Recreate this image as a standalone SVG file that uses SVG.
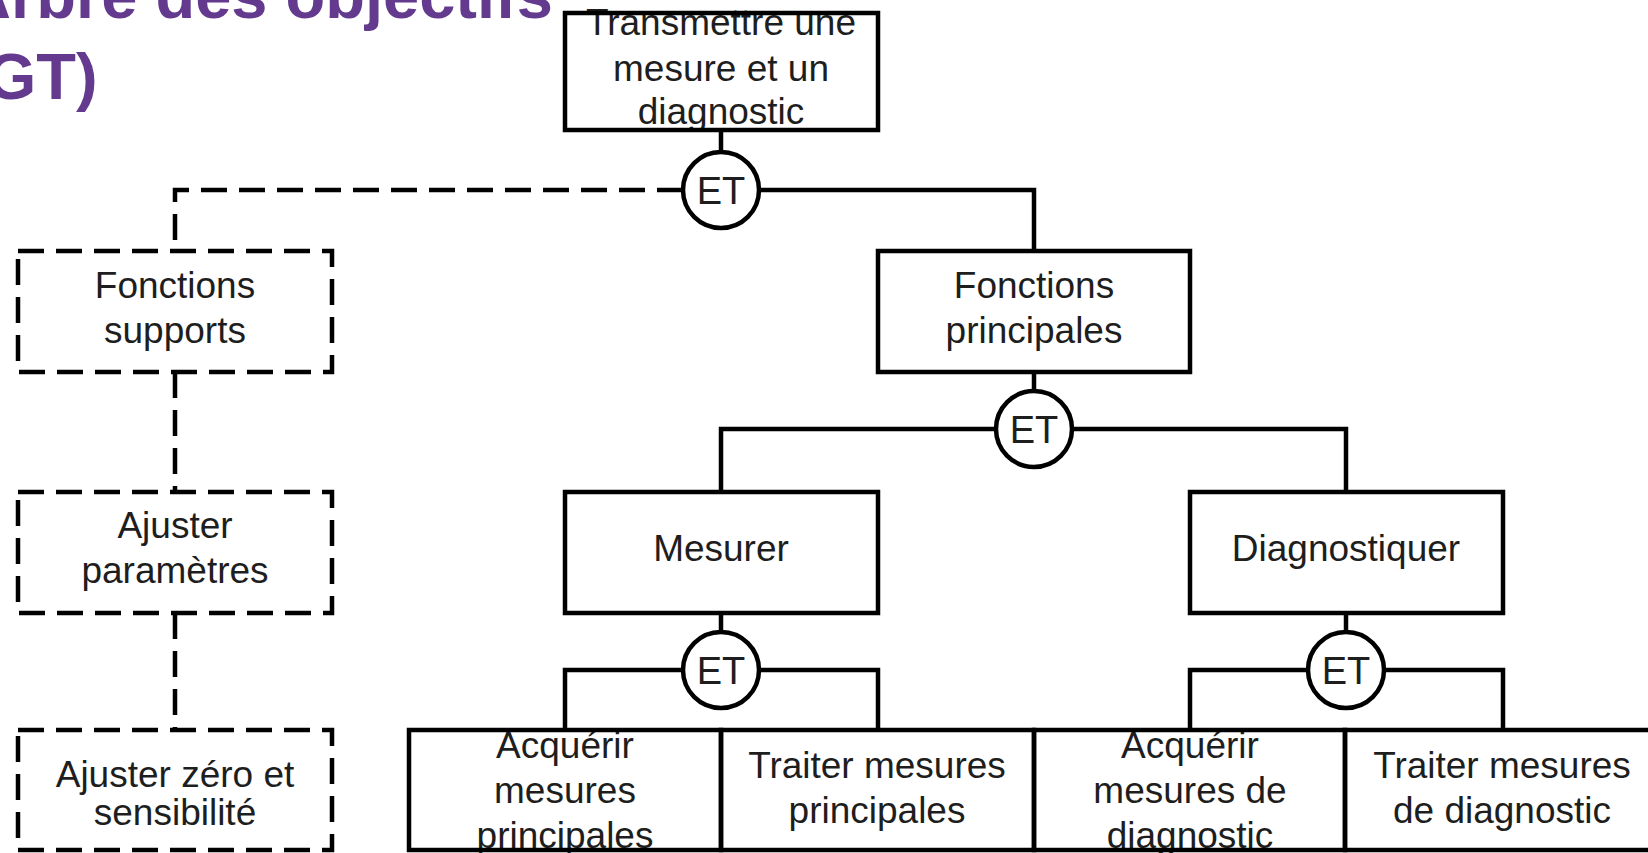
<svg xmlns="http://www.w3.org/2000/svg" width="1648" height="853" viewBox="0 0 1648 853">
<style>
.bx{fill:none;stroke:#000;stroke-width:4.5}
.dbx{fill:none;stroke:#000;stroke-width:4.5;stroke-dasharray:26 12}
.ln{fill:none;stroke:#000;stroke-width:4.5}
.dln{fill:none;stroke:#000;stroke-width:4.5;stroke-dasharray:26 12}
.et{fill:#fff;stroke:#000;stroke-width:4.5}
.t{font-family:"Liberation Sans",Arial,sans-serif;font-size:37px;fill:#1e1e1e;text-anchor:middle}
.ett{font-family:"Liberation Sans",Arial,sans-serif;font-size:38px;fill:#1e1e1e;text-anchor:middle}
.title{font-family:"Liberation Sans",Arial,sans-serif;font-size:65px;font-weight:bold;fill:#643a8f}
</style>
<rect width="1648" height="853" fill="#fff"/>
<g id="title">
<text class="title" x="-36" y="18">Arbre des objectifs</text>
<text class="title" x="-36" y="99">(GT)</text>
</g>
<g id="connectors">
<line class="ln" x1="721" y1="130" x2="721" y2="152"/>
<polyline class="dln" points="683,190 175,190 175,251"/>
<polyline class="ln" points="759,190 1034,190 1034,251"/>
<line class="dln" x1="175" y1="372" x2="175" y2="492"/>
<line class="dln" x1="175" y1="613" x2="175" y2="730"/>
<line class="ln" x1="1034" y1="372" x2="1034" y2="390"/>
<polyline class="ln" points="995,429 721,429 721,492"/>
<polyline class="ln" points="1073,429 1346,429 1346,492"/>
<line class="ln" x1="721" y1="613" x2="721" y2="632"/>
<polyline class="ln" points="683,670 565,670 565,730"/>
<polyline class="ln" points="759,670 878,670 878,730"/>
<line class="ln" x1="1346" y1="613" x2="1346" y2="632"/>
<polyline class="ln" points="1308,670 1190,670 1190,730"/>
<polyline class="ln" points="1384,670 1503,670 1503,730"/>
</g>
<g id="n-transmettre">
<text class="t" x="721" y="35">Transmettre une</text>
<text class="t" x="721" y="81">mesure et un</text>
<text class="t" x="721" y="124">diagnostic</text>
<rect class="bx" x="565" y="13" width="313" height="117"/>
</g>
<g id="et1"><circle class="et" cx="721" cy="190" r="38"/><text class="ett" x="721" y="204">ET</text></g>
<g id="n-fonctions-supports">
<text class="t" x="175" y="298">Fonctions</text>
<text class="t" x="175" y="343">supports</text>
<rect class="dbx" x="18" y="251" width="314" height="121"/>
</g>
<g id="n-fonctions-principales">
<text class="t" x="1034" y="298">Fonctions</text>
<text class="t" x="1034" y="343">principales</text>
<rect class="bx" x="878" y="251" width="312" height="121"/>
</g>
<g id="et2"><circle class="et" cx="1034" cy="429" r="38"/><text class="ett" x="1034" y="443">ET</text></g>
<g id="n-ajuster-parametres">
<text class="t" x="175" y="538">Ajuster</text>
<text class="t" x="175" y="583">paramètres</text>
<rect class="dbx" x="18" y="492" width="314" height="121"/>
</g>
<g id="n-mesurer">
<text class="t" x="721" y="561">Mesurer</text>
<rect class="bx" x="565" y="492" width="313" height="121"/>
</g>
<g id="n-diagnostiquer">
<text class="t" x="1346" y="561">Diagnostiquer</text>
<rect class="bx" x="1190" y="492" width="313" height="121"/>
</g>
<g id="et3"><circle class="et" cx="721" cy="670" r="38"/><text class="ett" x="721" y="684">ET</text></g>
<g id="et4"><circle class="et" cx="1346" cy="670" r="38"/><text class="ett" x="1346" y="684">ET</text></g>
<g id="n-ajuster-zero">
<text class="t" x="175" y="787">Ajuster zéro et</text>
<text class="t" x="175" y="825">sensibilité</text>
<rect class="dbx" x="18" y="730" width="314" height="120"/>
</g>
<g id="n-acquerir-principales">
<text class="t" x="565" y="758">Acquérir</text>
<text class="t" x="565" y="803">mesures</text>
<text class="t" x="565" y="848">principales</text>
<rect class="bx" x="409" y="730" width="312" height="120"/>
</g>
<g id="n-traiter-principales">
<text class="t" x="877" y="778">Traiter mesures</text>
<text class="t" x="877" y="823">principales</text>
<rect class="bx" x="721" y="730" width="313" height="120"/>
</g>
<g id="n-acquerir-diagnostic">
<text class="t" x="1190" y="758">Acquérir</text>
<text class="t" x="1190" y="803">mesures de</text>
<text class="t" x="1190" y="848">diagnostic</text>
<rect class="bx" x="1034" y="730" width="311" height="120"/>
</g>
<g id="n-traiter-diagnostic">
<text class="t" x="1502" y="778">Traiter mesures</text>
<text class="t" x="1502" y="823">de diagnostic</text>
<rect class="bx" x="1345" y="730" width="314" height="120"/>
</g>
</svg>
